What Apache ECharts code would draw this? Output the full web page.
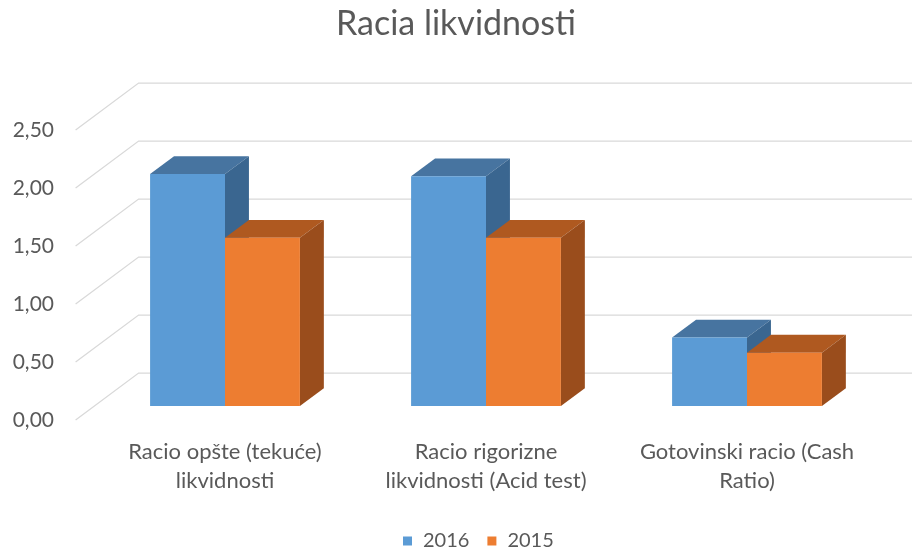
<!DOCTYPE html>
<html>
<head>
<meta charset="utf-8">
<script src="https://cdn.jsdelivr.net/npm/echarts@6/dist/echarts.min.js"></script>
<style>
  html, body { margin: 0; padding: 0; background: #fff; }
  #chart { width: 912px; height: 548px; }
</style>
</head>
<body>
<div id="chart"></div>
<script>
const categories = [
  'Racio opšte (tekuće)\nlikvidnosti',
  'Racio rigorizne\nlikvidnosti (Acid test)',
  'Gotovinski racio (Cash\nRatio)'
];
const values2016 = [2.00, 1.98, 0.59];
const values2015 = [1.45, 1.45, 0.46];
const yTicks = [0, 0.5, 1, 1.5, 2, 2.5];

const FONT = 'Lato, "Open Sans", sans-serif';
const TEXT = '#595959';

// oblique projection: full depth of the floor in pixels, bars sit in the middle
const DEPTH = [63, -47];
const BAR_T = 0.3;      // depth of bar front faces
const BAR_D = 0.38;     // depth of each bar
const BAR_FRAC = 0.287; // bar width as share of category band

const colors = {
  s2016: { front: '#5B9BD5', top: '#4774A0', side: '#3A6690' },
  s2015: { front: '#ED7D31', top: '#AF5920', side: '#9A4D1C' }
};

function boxRenderer(side, c) {
  return function (params, api) {
    const i = api.value(0);
    const v = api.value(1);
    const base = api.coord([i, 0]);
    const top = api.coord([i, v]);
    const w = api.size([1, 0])[0] * BAR_FRAC;
    const x0 = side === 0 ? base[0] - w : base[0];
    const x1 = x0 + w;
    const dx = DEPTH[0] * BAR_D, dy = DEPTH[1] * BAR_D;
    return {
      type: 'group',
      children: [
        { type: 'polygon', shape: { points: [[x0, top[1]], [x1, top[1]], [x1 + dx, top[1] + dy], [x0 + dx, top[1] + dy]] },
          style: { fill: c.top } },
        { type: 'polygon', shape: { points: [[x1, top[1]], [x1 + dx, top[1] + dy], [x1 + dx, base[1] + dy], [x1, base[1]]] },
          style: { fill: c.side } },
        { type: 'rect', shape: { x: x0, y: top[1], width: w, height: base[1] - top[1] },
          style: { fill: c.front } }
      ]
    };
  };
}

function wallRenderer(params, api) {
  const y = api.coord([0, api.value(1)])[1];
  const xl = params.coordSys.x;
  const fx = xl - DEPTH[0] * BAR_T, fy = y - DEPTH[1] * BAR_T;
  const bx = xl + DEPTH[0] * (1 - BAR_T), by = y + DEPTH[1] * (1 - BAR_T);
  return {
    type: 'polyline',
    shape: { points: [[fx, fy], [bx, by], [912, by]] },
    style: { stroke: '#D9D9D9', lineWidth: 1.3, fill: null }
  };
}

const chart = echarts.init(document.getElementById('chart'));
chart.setOption({
  animation: false,
  title: {
    text: 'Racia likvidnosti',
    left: 'center',
    top: 2,
    textStyle: { fontFamily: FONT, fontSize: 34, fontWeight: 'normal', color: TEXT }
  },
  legend: {
    top: 526,
    left: 398,
    itemWidth: 9,
    itemHeight: 9,
    itemGap: 18,
    icon: 'rect',
    data: ['2016', '2015'],
    textStyle: { fontFamily: FONT, fontSize: 20, color: TEXT, padding: [0, 0, 0, 6] }
  },
  grid: [
    { left: 94.5, right: 34.5, top: 116, bottom: 142 },
    { left: 75, right: 34.5, top: 130, bottom: 128 }
  ],
  xAxis: [
    {
      type: 'category', gridIndex: 0, data: categories,
      axisLine: { show: false }, axisTick: { show: false },
      axisLabel: { margin: 31, fontFamily: FONT, fontSize: 22, lineHeight: 29, color: TEXT, interval: 0 }
    },
    { type: 'category', gridIndex: 1, data: categories, show: false }
  ],
  yAxis: [
    { type: 'value', gridIndex: 0, min: 0, max: 2.5, interval: 0.5, show: false },
    {
      type: 'value', gridIndex: 1, min: 0, max: 2.5, interval: 0.5,
      axisLine: { show: false }, axisTick: { show: false }, splitLine: { show: false },
      axisLabel: { margin: 21, fontFamily: FONT, fontSize: 21, color: TEXT,
        formatter: v => v.toFixed(2).replace('.', ',') }
    }
  ],
  series: [
    {
      type: 'custom', name: 'walls', xAxisIndex: 0, yAxisIndex: 0, z: 1, silent: true,
      data: yTicks.map(v => [0, v]),
      renderItem: wallRenderer
    },
    {
      type: 'custom', name: '2016', xAxisIndex: 0, yAxisIndex: 0, z: 2,
      itemStyle: { color: colors.s2016.front },
      data: values2016.map((v, i) => [i, v]),
      renderItem: boxRenderer(0, colors.s2016)
    },
    {
      type: 'custom', name: '2015', xAxisIndex: 0, yAxisIndex: 0, z: 3,
      itemStyle: { color: colors.s2015.front },
      data: values2015.map((v, i) => [i, v]),
      renderItem: boxRenderer(1, colors.s2015)
    }
  ]
});
</script>
</body>
</html>
